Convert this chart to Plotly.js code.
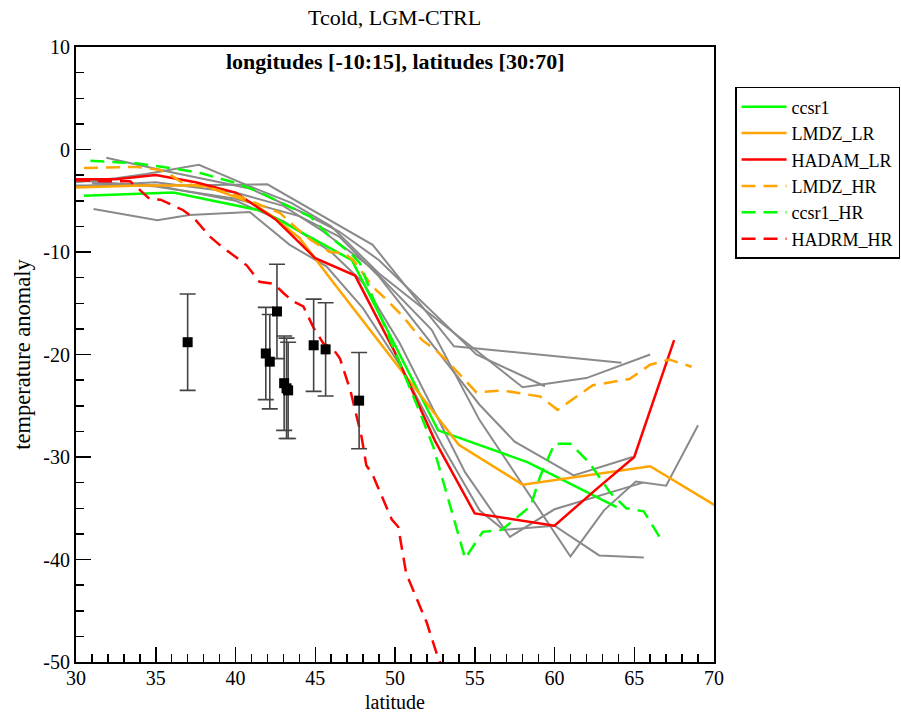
<!DOCTYPE html>
<html><head><meta charset="utf-8">
<script src="https://cdn.plot.ly/plotly-3.0.1.min.js"></script>
<style>body{margin:0;background:#fff}#plot{width:901px;height:713px}</style>
</head><body><div id="plot"></div>
<script>
// ---- colored model series ----
const ccsr1_lat = [30.5,36.1,41.7,47.3,52.7,58.3,63.9];
const ccsr1_val = [-4.5,-4.2,-6.0,-10.8,-27.4,-30.5,-34.9];

const lmdzLR_lat = [30,34,38,40,41,42,44,46,50,54,58,66,71];
const lmdzLR_val = [-3.7,-3.5,-3.5,-4.6,-5.2,-6.2,-8.6,-12.7,-20.8,-28.8,-32.7,-30.9,-35.6];

const hadamLR_lat = [30,32.5,35,37.5,40,42.5,45,47.5,50,52.5,55,57.5,60,62.5,65,67.5];
const hadamLR_val = [-2.9,-2.9,-2.5,-3.2,-4.2,-6.8,-10.6,-12.3,-19.8,-28.4,-35.5,-36.1,-36.7,-33.3,-30.0,-18.6];

const lmdzHR_lat = [30.5,32,33.8,35.3,36.1,36.7,38.5,40.3,41.5,42.8,43.7,44.7,45.9,46.8,47.4,48.0,48.6,49.3,50.5,51.7,52.5,53.2,55.1,56.7,59.1,60.2,62.4,64.7,66.0,67.2,68.6];
const lmdzHR_val = [-1.8,-1.75,-1.7,-2.0,-2.65,-3.3,-3.8,-4.6,-5.4,-6.2,-7.5,-8.8,-10.0,-10.1,-10.8,-12.1,-13.4,-14.4,-16.3,-18.6,-19.5,-20.5,-23.7,-23.5,-24.1,-25.4,-23.0,-22.4,-21.0,-20.5,-21.2];

const ccsr1HR_lat = [30.9,33.8,35.9,37.8,40.1,41.7,43.4,44.7,45.9,47.2,47.8,48.6,51.6,52.4,54.4,55.5,56.7,58.5,59.1,60.0,61.0,62.2,63.5,64.5,65.6,66.7];
const ccsr1HR_val = [-1.1,-1.35,-1.8,-2.3,-3.3,-4.3,-5.6,-6.55,-8.5,-10.1,-11.1,-14.4,-25.8,-29.0,-39.9,-37.3,-37.1,-34.8,-31.9,-28.7,-28.7,-30.6,-33.5,-35.0,-35.3,-38.1];

const hadrmHR_lat = [30,31.7,33.4,34.0,34.6,35.3,36.7,37.4,38.4,39.0,40.7,41.5,42.4,43.0,43.6,44.25,44.9,45.5,46.1,46.55,47.2,47.9,48.2,48.6,49.8,50.2,50.7,52.0,52.7,53.1];
const hadrmHR_val = [-3.0,-3.1,-3.1,-4.0,-4.8,-4.9,-5.9,-6.7,-8.5,-9.3,-11.3,-12.9,-13.1,-14.0,-14.8,-15.3,-17.4,-18.9,-19.4,-20.4,-23.5,-28.0,-30.8,-31.75,-36.1,-36.8,-41.35,-46.2,-49.6,-51.0];

// ---- gray (other models) ----
const g1_lat = [30,36,42,46,48.6,53.7,64.2];
const g1_val = [-3.5,-3.5,-3.4,-7.0,-9.3,-19.2,-20.8];
const g2_lat = [31.9,35.9,40.9,44,46.5,49,55.1,59.4];
const g2_val = [-0.8,-2.2,-3.8,-6.0,-8.0,-10.8,-20.0,-23.1];
const g3_lat = [30,32.5,34.4,37.7,40.9,43.5,46,49,58,62,66];
const g3_val = [-3.2,-2.8,-2.4,-1.5,-3.6,-5.2,-7.5,-12.1,-23.2,-22.3,-20.0];
const g4_lat = [30,35,40,44,46.5,49,55.3,57.5,61.2,64.9];
const g4_val = [-3.0,-3.6,-4.8,-6.5,-8.5,-12.4,-24.9,-28.5,-31.8,-30.0];
const g5_lat = [30,35,40,43,45.5,48.5,52.3,55.3,61.0,63.1,65.1,67.0,69.0];
const g5_val = [-3.6,-3.2,-4.2,-5.5,-8.0,-11.5,-17.6,-26.4,-39.7,-35.2,-32.4,-32.8,-26.9];
const g6_lat = [31,35,40,43,46,48,50.3,54.4,57.2,60.0,65.55];
const g6_val = [-3.3,-3.5,-5.0,-7.0,-10.0,-13.0,-18.9,-31.5,-37.8,-35.1,-32.5];
const g7_lat = [31.1,35.1,37.1,40.9,43.4,45.7,48,50.3,53,55.3,56.8,60.0,62.8,65.6];
const g7_val = [-5.8,-6.9,-6.4,-6.1,-9.3,-11.4,-15.5,-21.0,-29.0,-35.2,-37.1,-36.7,-39.6,-39.8];

// ---- observations with error bars ----
const obs_lat = [37.0,41.9,42.15,42.6,43.05,43.2,43.3,44.9,45.65,47.75];
const obs_val = [-18.8,-19.9,-20.7,-15.8,-22.8,-23.3,-23.5,-19.1,-19.5,-24.5];
const obs_err = [4.7,4.5,4.6,4.6,4.6,4.9,4.7,4.5,4.55,4.7];

// ---- tick labels ----
const xTickVals = [30,35,40,45,50,55,60,65,70];
const xTickText = ['30','35','40','45','50','55','60','65','70'];
const yTickVals = [-50,-40,-30,-20,-10,0,10];
const yTickText = ['-50','-40','-30','-20','-10','0','10'];

const GRAY = '#8a8a8a';
const traces = [];
[[g1_lat,g1_val],[g2_lat,g2_val],[g3_lat,g3_val],[g4_lat,g4_val],[g5_lat,g5_val],[g6_lat,g6_val],[g7_lat,g7_val]].forEach(function(g){
  traces.push({x:g[0], y:g[1], mode:'lines', line:{color:GRAY, width:2}, showlegend:false, hoverinfo:'skip'});
});
const DASH = '14px,8px';
traces.push({x:ccsr1_lat, y:ccsr1_val, mode:'lines', name:'ccsr1', line:{color:'#00ff00', width:2.5}});
traces.push({x:lmdzLR_lat, y:lmdzLR_val, mode:'lines', name:'LMDZ_LR', line:{color:'#ffa500', width:2.5}});
traces.push({x:hadamLR_lat, y:hadamLR_val, mode:'lines', name:'HADAM_LR', line:{color:'#ff0000', width:2.5}});
traces.push({x:lmdzHR_lat, y:lmdzHR_val, mode:'lines', name:'LMDZ_HR', line:{color:'#ffa500', width:2.5, dash:DASH}});
traces.push({x:ccsr1HR_lat, y:ccsr1HR_val, mode:'lines', name:'ccsr1_HR', line:{color:'#00ff00', width:2.5, dash:DASH}});
traces.push({x:hadrmHR_lat, y:hadrmHR_val, mode:'lines', name:'HADRM_HR', line:{color:'#ff0000', width:2.5, dash:DASH}});
traces.push({x:obs_lat, y:obs_val, mode:'markers', showlegend:false,
  marker:{symbol:'square', size:10, color:'#000000'},
  error_y:{type:'data', array:obs_err, visible:true, color:'#444444', thickness:1.6, width:8}});

const FONT = 'Liberation Serif, Times New Roman, serif';
const layout = {
  width:901, height:713,
  paper_bgcolor:'#ffffff', plot_bgcolor:'#ffffff',
  margin:{l:76, r:187, t:47, b:51, autoexpand:false},
  font:{family:FONT, color:'#000', size:18},
  title:{text:'Tcold, LGM-CTRL', font:{family:FONT, size:22, color:'#000'}, x:0.438, xanchor:'center', y:0.976, yanchor:'middle', yref:'container'},
  xaxis:{range:[30,70], tickmode:'array', tickvals:xTickVals, ticktext:xTickText, ticks:'inside', ticklen:15, tickwidth:1.5, tickcolor:'#000',
    minor:{dtick:1, tick0:30, ticks:'inside', ticklen:8, tickwidth:1.5, tickcolor:'#000'},
    showline:true, mirror:true, linecolor:'#000', linewidth:2, showgrid:false, zeroline:false, ticklabelstandoff:-3,
    tickfont:{family:FONT, size:20}, title:{text:'latitude', font:{family:FONT, size:20}, standoff:14}},
  yaxis:{range:[-50,10], tickmode:'array', tickvals:yTickVals, ticktext:yTickText, ticks:'inside', ticklen:15, tickwidth:1.5, tickcolor:'#000',
    minor:{dtick:2.5, tick0:0, ticks:'inside', ticklen:8, tickwidth:1.5, tickcolor:'#000'},
    showline:true, mirror:true, linecolor:'#000', linewidth:2, showgrid:false, zeroline:false,
    tickfont:{family:FONT, size:20}, title:{text:'temperature anomaly', font:{family:FONT, size:22.5}, standoff:6}},
  legend:{x:1.033, xanchor:'left', y:0.935, yanchor:'top', bordercolor:'#000', borderwidth:1.5, bgcolor:'#fff',
    font:{family:FONT, size:18}, tracegroupgap:0, itemwidth:45},
  annotations:[{text:'<b>longitudes [-10:15], latitudes [30:70]</b>', xref:'paper', yref:'paper', x:0.5, y:0.977, xanchor:'center', yanchor:'middle', showarrow:false, font:{family:FONT, size:22, color:'#000'}}]
};
Plotly.newPlot('plot', traces, layout, {displayModeBar:false, staticPlot:true});
</script></body></html>
